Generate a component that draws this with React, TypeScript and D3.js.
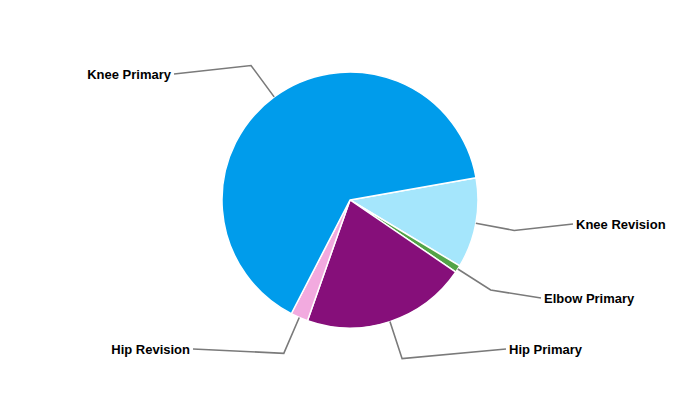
import React from "react";
import * as d3 from "d3";

const categories = ["Knee Revision", "Elbow Primary", "Hip Primary", "Hip Revision", "Knee Primary"];
const values = [11.4, 0.9, 20.9, 2.2, 64.7];
const colors = ["#a5e6fc", "#52a447", "#860f7a", "#f2aadf", "#009ceb"];

const W = 700, H = 400, CX = 350, CY = 200, R = 128, ELBOW = 167;
// label anchor points (layout)
const labelAnchors: [number, number, "start" | "end"][] = [
  [576, 224, "start"],
  [544, 298, "start"],
  [509, 349, "start"],
  [190, 349, "end"],
  [171, 74, "end"],
];

export default function App() {
  const pie = d3.pie<number>().sort(null).startAngle((80 * Math.PI) / 180).endAngle((80 * Math.PI) / 180 + 2 * Math.PI);
  const arcs = pie(values);
  const arc = d3.arc<d3.PieArcDatum<number>>().innerRadius(0).outerRadius(R);
  return (
    <svg width={W} height={H} style={{ position: "absolute", left: 0, top: 0, background: "#fff" }}>
      <g transform={`translate(${CX},${CY})`}>
        {arcs.map((a, i) => (
          <path key={i} d={arc(a) || ""} fill={colors[i]} stroke="#fff" strokeWidth={1.5} strokeLinejoin="round" />
        ))}
      </g>
      {arcs.map((a, i) => {
        const m = (a.startAngle + a.endAngle) / 2;
        const x0 = CX + R * Math.sin(m), y0 = CY - R * Math.cos(m);
        const x1 = CX + ELBOW * Math.sin(m), y1 = CY - ELBOW * Math.cos(m);
        const [lx, ly, anchor] = labelAnchors[i];
        const ex = anchor === "start" ? lx - 3 : lx + 3;
        return (
          <g key={i}>
            <polyline points={`${x0},${y0} ${x1},${y1} ${ex},${ly}`} fill="none" stroke="#7a7a7a" strokeWidth={1.6} />
            <text x={lx} y={ly} dy="0.35em" textAnchor={anchor} fontFamily="Liberation Sans, Arial, sans-serif" fontWeight="bold" fontSize={13} fill="#000">
              {categories[i]}
            </text>
          </g>
        );
      })}
    </svg>
  );
}
